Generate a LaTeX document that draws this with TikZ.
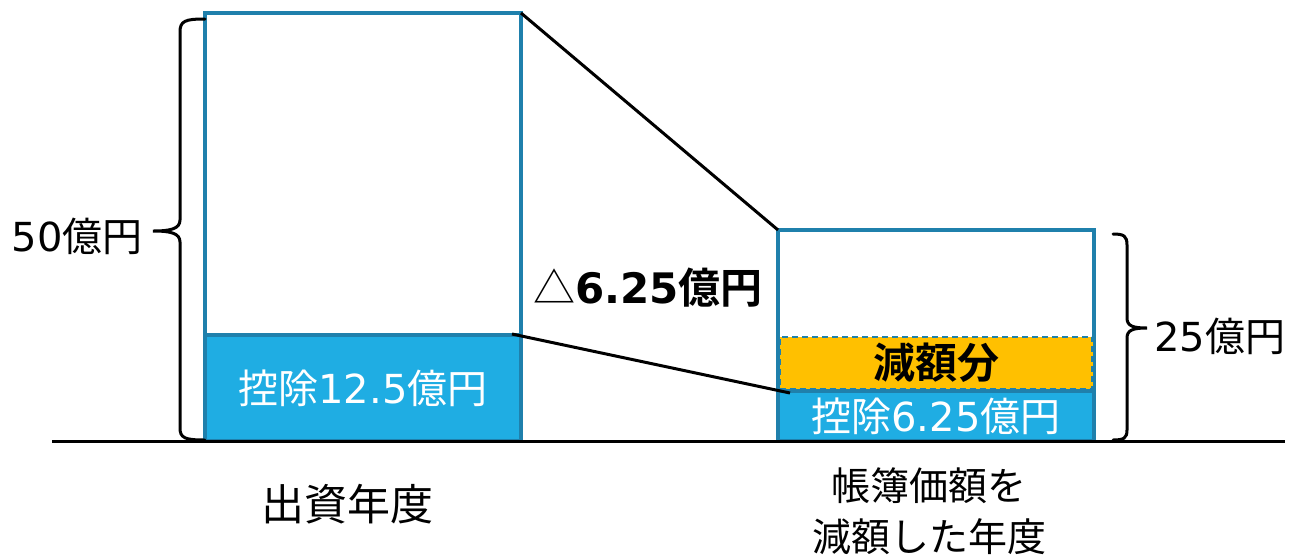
\documentclass[tikz,border=0pt]{standalone}
\usepackage{fontspec}
\newfontfamily\jp{Noto Sans CJK JP}[BoldFont={* Bold}]
\newfontfamily\lat{DejaVu Sans}
\definecolor{edgeblue}{HTML}{1F80AC}
\definecolor{fillblue}{HTML}{1FADE3}
\definecolor{gold}{HTML}{FFC000}
\tikzset{
  barbox/.style={draw=edgeblue, line width=3.4pt, fill=white, inner sep=0pt, outer sep=0pt, anchor=north west},
  bluebox/.style={draw=edgeblue, line width=3.4pt, fill=fillblue, inner sep=0pt, outer sep=0pt, anchor=north west, text=white, font=\jp\fontsize{40}{46}\selectfont},
  goldbox/.style={draw=edgeblue, dash pattern=on 6pt off 4pt, line width=2.6pt, fill=gold, inner sep=0pt, outer sep=0pt, anchor=north west, font=\jp\bfseries\fontsize{42}{46}\selectfont},
  lbl/.style={font=\jp\fontsize{40}{53}\selectfont, inner sep=0pt, align=center},
  thin/.style={black, line width=3pt},
}
\begin{document}
\begin{tikzpicture}[x=1pt,y=-1pt]
\useasboundingbox (0,0) rectangle (1290,558);
% left bar
\node[barbox, minimum width=316, minimum height=428] (L) at (205,13) {};
\node[bluebox, minimum width=316, minimum height=106] (Lb) at (205,335) {控除{\lat 12.5}億円};
% right bar
\node[barbox, minimum width=316, minimum height=211] (R) at (778,230) {};
\node[bluebox, minimum width=316, minimum height=50] (Rb) at (778,391) {控除{\lat 6.25}億円};
\node[goldbox, minimum width=313, minimum height=52] (Rg) at (779.5,337) {減額分};
% baseline
\coordinate (b0) at (52,441);
\coordinate (b1) at (1285,441);
\draw[thin] (b0) -- (b1);
% connecting lines
\coordinate (l1) at (512,334);
\coordinate (l2) at (790,393);
\draw[thin] (L.north east) -- (R.north west);
\draw[thin] (l1) -- (l2);
% left brace
\draw[thin, line cap=round] (205,19) .. controls (185,19) and (180,21) .. (180,32) -- (180,220)
  .. controls (180,229) and (170,231) .. (153,231)
  .. controls (170,231) and (180,233) .. (180,242) -- (180,428)
  .. controls (180,438) and (185,440) .. (205,440);
\node[lbl, anchor=east] (t50) at (143,236) {{\lat 50}億円};
% right brace
\draw[thin, line cap=round] (1113,234) .. controls (1124,234) and (1127,236) .. (1127,245) -- (1127,318)
  .. controls (1127,326) and (1133,328) .. (1147,328)
  .. controls (1133,328) and (1127,330) .. (1127,338) -- (1127,430)
  .. controls (1127,438) and (1124,440) .. (1113,440);
\node[lbl, anchor=west] (t25) at (1154,336) {{\lat 25}億円};
% delta label
\node[lbl, anchor=west, font=\jp\fontsize{42}{46}\selectfont] (d) at (533,288) {△\bfseries{\lat 6.25}億円};
% bottom labels
\node[lbl, font=\jp\fontsize{43}{53}\selectfont] (y1) at (347,504) {出資年度};
\node[lbl, font=\jp\fontsize{39}{51}\selectfont] (y2) at (929,511) {帳簿価額を\\減額した年度};
\end{tikzpicture}
\end{document}
